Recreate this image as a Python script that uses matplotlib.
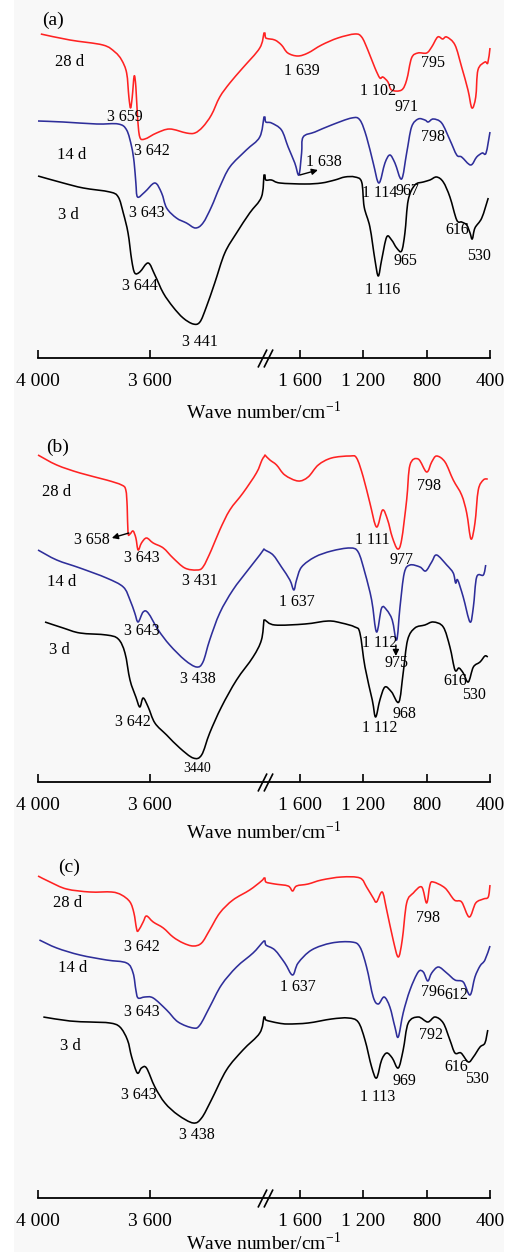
import numpy as np
import matplotlib
matplotlib.use("Agg")
import matplotlib.pyplot as plt
from matplotlib.transforms import offset_copy
from matplotlib.patches import Rectangle, PathPatch
from matplotlib.path import Path

plt.rcParams['font.family'] = ['Liberation Serif', 'DejaVu Serif']
plt.rcParams['mathtext.fontset'] = 'stix'

# ---------------- data (wave number, transmittance a.u.) ----------------
# panel (a)
A28_W = [3990, 3886, 3768, 3725, 3701, 3683, 3675, 3669, 3663, 3656, 3650, 3644, 3636, 3618,
         3576, 3529, 3469, 3439, 3411, 3380, 3350, 3314, 3268, 3207, 3192,
         1821, 1815, 1758, 1716, 1676, 1613, 1549, 1463, 1360, 1253, 1210, 1171, 1126, 1095,
         1076, 1044, 1021, 958, 926, 895, 855, 800, 768, 730, 699, 673, 621, 579, 539, 514,
         490, 476, 432, 414, 400]
A28_T = [324, 318, 313, 306, 298, 285, 261, 250, 261, 282, 271, 241, 221, 219,
         225, 229, 225, 225, 231, 243, 261, 275, 290, 310, 325,
         325, 320, 318, 313, 305, 302, 305, 313, 320, 324, 321, 308, 290, 280,
         281, 276, 268, 268, 278, 300, 305, 305, 311, 321, 319, 321, 313, 291, 268, 250,
         261, 288, 296, 295, 310]
A14_W = [4000, 3910, 3790, 3713, 3683, 3665, 3656, 3650, 3644, 3618, 3582, 3558, 3540, 3505,
         3469, 3437, 3410, 3380, 3350, 3314, 3255, 3207, 3192,
         1821, 1815, 1779, 1716, 1674, 1632, 1606, 1589, 1579, 1505, 1400, 1273, 1221, 1179,
         1137, 1101, 1063, 1032, 1000, 958, 926, 895, 853, 811, 790, 758, 705, 653, 610, 579,
         522, 484, 449, 425, 400]
A14_T = [237, 236, 234, 234, 228, 211, 195, 175, 161, 166, 175, 165, 150, 140,
         135, 130, 135, 151, 171, 191, 208, 221, 241,
         241, 236, 235, 228, 211, 195, 183, 205, 221, 226, 233, 240, 238, 221,
         195, 175, 195, 203, 195, 179, 205, 231, 239, 238, 236, 239, 235, 218, 203, 201,
         193, 201, 205, 205, 226]
A3_W = [4000, 3910, 3838, 3743, 3713, 3695, 3678, 3665, 3654, 3636, 3606, 3582, 3552, 3517,
        3481, 3445, 3421, 3398, 3368, 3332, 3290, 3243, 3201, 3192,
        1821, 1815, 1779, 1726, 1568, 1463, 1379, 1316, 1253, 1210, 1194, 1158, 1126, 1105,
        1084, 1052, 1021, 989, 958, 937, 916, 874, 821, 779, 737, 695, 653, 610, 579, 547,
        526, 512, 495, 452, 411]
A3_T = [182, 175, 170, 166, 161, 145, 125, 98, 85, 86, 95, 83, 65, 51,
        40, 34, 36, 51, 75, 105, 125, 145, 161, 183,
        183, 178, 178, 175, 174, 175, 178, 181, 181, 176, 151, 131, 98, 82,
        98, 121, 118, 110, 107, 125, 158, 173, 176, 178, 181, 176, 161, 138, 136, 133,
        125, 119, 130, 140, 160]

# panel (b)
B28_W = [4000, 3933, 3850, 3755, 3701, 3686, 3681, 3678, 3671, 3660, 3650, 3642, 3630, 3612,
         3588, 3552, 3517, 3475, 3433, 3410, 3380, 3350, 3314, 3267, 3219, 3199, 3192,
         1821, 1789, 1747, 1695, 1611, 1548, 1484, 1400, 1284, 1242, 1200, 1158, 1116, 1078,
         1046, 1017, 983, 958, 926, 905, 853, 800, 768, 737, 684, 632, 579, 547, 520, 495,
         474, 442, 414]
B28_T = [327, 317, 309, 302, 297, 292, 275, 249, 248, 251, 244, 232, 239, 244,
         239, 234, 224, 214, 212, 215, 232, 252, 272, 289, 309, 322, 325,
         327, 322, 317, 307, 301, 305, 317, 324, 326, 324, 305, 279, 255, 272,
         262, 245, 233, 242, 282, 317, 323, 310, 320, 326, 320, 302, 287, 269, 243, 259,
         292, 302, 303]
B14_W = [4000, 3933, 3850, 3755, 3695, 3671, 3654, 3642, 3624, 3606, 3570, 3529, 3475, 3433,
         3410, 3386, 3350, 3303, 3249, 3207, 3192,
         1821, 1769, 1716, 1663, 1638, 1621, 1589, 1505, 1400, 1284, 1232, 1189, 1147, 1116,
         1084, 1052, 1017, 989, 968, 941, 905, 842, 806, 768, 737, 673, 632, 617, 604, 569,
         526, 505, 484, 442, 427]
B14_T = [232, 222, 214, 204, 195, 182, 169, 160, 170, 169, 152, 137, 122, 115,
         120, 142, 169, 192, 212, 227, 233,
         232, 227, 215, 202, 192, 202, 215, 225, 231, 234, 230, 209, 182, 150,
         174, 172, 162, 142, 175, 209, 217, 215, 211, 220, 227, 217, 209, 199, 202, 185,
         160, 175, 205, 207, 217]
B3_W = [3975, 3910, 3850, 3755, 3713, 3689, 3671, 3650, 3636, 3624, 3606, 3582, 3540, 3493,
        3445, 3415, 3386, 3344, 3290, 3231, 3201, 3192,
        1821, 1758, 1568, 1421, 1337, 1253, 1221, 1189, 1143, 1122, 1095, 1063, 1021, 975,
        948, 920, 874, 811, 758, 695, 653, 621, 596, 569, 537, 505, 463, 432, 414]
B3_T = [160, 154, 149, 147, 143, 129, 102, 85, 75, 84, 75, 59, 47, 34,
        24, 27, 49, 75, 102, 125, 142, 162,
        162, 157, 158, 161, 159, 155, 149, 115, 82, 65, 82, 95, 90, 80,
        109, 142, 154, 157, 160, 155, 135, 112, 114, 109, 100, 115, 120, 126, 125]

# panel (c)
C28_W = [4000, 3957, 3898, 3814, 3737, 3701, 3671, 3657, 3648, 3642, 3624, 3612, 3588, 3552,
         3517, 3481, 3445, 3415, 3386, 3350, 3303, 3243, 3201, 3192,
         1821, 1815, 1758, 1674, 1646, 1621, 1548, 1463, 1337, 1221, 1179, 1137, 1116, 1080,
         1052, 1011, 979, 954, 926, 884, 831, 800, 779, 758, 684, 625, 579, 531, 490, 442,
         411, 400]
C28_T = [322, 316, 309, 306, 306, 303, 296, 285, 270, 267, 276, 282, 276, 270,
         261, 255, 252, 255, 268, 285, 298, 308, 317, 320,
         320, 316, 314, 312, 307, 312, 314, 318, 321, 320, 311, 300, 296, 306,
         288, 258, 241, 258, 295, 305, 311, 295, 313, 316, 310, 298, 296, 281, 295, 299,
         301, 313]
C14_W = [3995, 3933, 3850, 3755, 3683, 3660, 3650, 3642, 3618, 3588, 3540, 3499, 3445, 3421,
         3386, 3344, 3290, 3231, 3199, 3192,
         1821, 1815, 1758, 1695, 1646, 1611, 1526, 1400, 1273, 1221, 1179, 1137, 1105, 1068,
         1032, 1000, 979, 948, 905, 853, 821, 793, 768, 726, 673, 621, 569, 526, 495, 463,
         432, 400]
C14_T = [258, 250, 243, 238, 235, 225, 208, 200, 201, 200, 188, 176, 170, 173,
         191, 213, 231, 245, 255, 257,
         257, 253, 248, 235, 223, 235, 248, 255, 256, 251, 231, 201, 194, 201,
         191, 171, 161, 185, 208, 226, 226, 217, 225, 231, 225, 218, 216, 203, 221, 232,
         238, 252]
C3_W = [3981, 3886, 3814, 3743, 3707, 3680, 3665, 3645, 3630, 3612, 3582, 3546, 3499, 3445,
        3415, 3380, 3326, 3267, 3207, 3192,
        1821, 1815, 1737, 1674, 1548, 1400, 1295, 1232, 1189, 1147, 1116, 1084, 1052, 1017,
        979, 948, 916, 853, 793, 747, 695, 653, 621, 583, 537, 505, 463, 432, 414]
C3_T = [181, 177, 176, 175, 171, 158, 141, 125, 130, 130, 111, 95, 83, 75,
        80, 98, 128, 148, 165, 181,
        181, 178, 175, 174, 175, 179, 180, 176, 158, 131, 120, 138, 145, 140,
        130, 148, 175, 181, 176, 181, 175, 158, 145, 145, 136, 141, 151, 155, 168]

SERIES = ["28 d", "14 d", "3 d"]
COLORS = ["#ff2222", "#2e2e9a", "#000000"]

# peak labels: (text, wave number, height)
A_LABELS = [("3 659", 3689, 241), ("3 642", 3593, 207), ("3 643", 3611, 145),
            ("3 644", 3636, 72), ("3 441", 3421, 16), ("1 639", 1587, 287),
            ("1 638", 1448, 196), ("1 102", 1107, 267), ("971", 924, 251),
            ("795", 760, 295), ("798", 760, 221), ("1 114", 1095, 165),
            ("967", 918, 167), ("1 116", 1076, 68), ("965", 931, 97),
            ("616", 608, 128), ("530", 469, 102)]
B_LABELS = [("3 658", 3807, 242), ("3 643", 3629, 224), ("3 431", 3421, 201),
            ("3 643", 3629, 151), ("3 438", 3429, 103), ("3 642", 3661, 60),
            ("1 637", 1619, 180), ("1 111", 1145, 242), ("977", 956, 222),
            ("798", 785, 296), ("1 112", 1095, 139), ("975", 987, 119),
            ("1 112", 1095, 54), ("968", 937, 68), ("616", 621, 101), ("530", 501, 87)]
C_LABELS = [("3 642", 3629, 251), ("3 643", 3629, 186), ("3 643", 3639, 103),
            ("3 438", 3432, 63), ("1 637", 1613, 211), ("798", 792, 280),
            ("796", 760, 206), ("612", 615, 203), ("792", 773, 163),
            ("616", 615, 131), ("530", 482, 119), ("1 113", 1107, 101), ("969", 943, 117)]

# series name positions (wave number, height)
A_NAMES = [(3886, 296), (3879, 203), (3893, 143)]
B_NAMES = [(3932, 290), (3914, 200), (3925, 132)]
C_NAMES = [(3893, 295), (3875, 230), (3886, 152)]

TICKS = [4000, 3600, 1600, 1200, 800, 400]
TICK_LABELS = ["4 000", "3 600", "1 600", "1 200", "800", "400"]

# broken axis: 4000-3190 and 1820-400
KNOT_W = [400, 1820, 3190, 4000]
KNOT_U = [0, 225, 225.5, 452]
BREAK_W = 1820


def fwd(w):
    return np.interp(w, KNOT_W, KNOT_U)


def inv(u):
    return np.interp(u, KNOT_U, KNOT_W)


def smooth_path(w, t):
    # Catmull-Rom curve through the read points, one piece on each side of the break
    w = np.asarray(w, float)
    t = np.asarray(t, float)
    verts, codes = [], []
    high = w > 2500
    for part in (high, ~high):
        P = np.column_stack([w[part], t[part]])
        verts.append(P[0])
        codes.append(Path.MOVETO if not codes else Path.LINETO)
        n = len(P)
        for i in range(n - 1):
            p0, p1 = P[max(i - 1, 0)], P[i]
            p2, p3 = P[i + 1], P[min(i + 2, n - 1)]
            verts += [p1 + (p2 - p0) / 6, p2 - (p3 - p1) / 6, p2]
            codes += [Path.CURVE4] * 3
    return Path(verts, codes)


def draw_panel(fig, base_px, tag, tag_pos, curves, names, labels, labelpad,
               small=None, arrows=()):
    W, H = 514.0, 1252.0
    ax = fig.add_axes([38 / W, 1 - base_px / H, 452 / W, 345 / H])
    ax.set_facecolor('none')
    ax.set_xscale('function', functions=(fwd, inv))
    ax.set_xlim(4000, 400)
    ax.set_ylim(0, 345)

    for (w, t), c in zip(curves, COLORS):
        ax.add_patch(PathPatch(smooth_path(w, t), fill=False, edgecolor=c, lw=1.15,
                               joinstyle='round', clip_on=False))

    for (x, y), s in zip(names, SERIES):
        ax.text(x, y, s, fontsize=12, ha='center', va='center')
    ax.text(tag_pos[0], tag_pos[1], tag, fontsize=14, ha='center', va='center')

    for s, x, y in labels:
        ax.text(x, y, s, fontsize=11.5, ha='center', va='center')
    if small:
        s, x, y = small
        ax.text(x, y, s, fontsize=10, ha='center', va='center')
    for tail, head in arrows:
        ax.annotate('', xy=head, xytext=tail,
                    arrowprops=dict(arrowstyle='-|>', color='k', lw=1.0,
                                    mutation_scale=9, shrinkA=0, shrinkB=0))

    for sp in ['left', 'right', 'top']:
        ax.spines[sp].set_visible(False)
    ax.spines['bottom'].set_linewidth(1.3)
    ax.set_yticks([])
    ax.set_xticks(TICKS)
    ax.set_xticklabels(TICK_LABELS)
    ax.xaxis.set_minor_locator(matplotlib.ticker.NullLocator())
    ax.tick_params(axis='x', direction='in', length=6, width=1.2, labelsize=14, pad=11)
    ax.set_xlabel(r'Wave number/cm$^{\mathregular{-1}}$', fontsize=14, labelpad=labelpad)

    # break marks on the axis
    trans = ax.get_xaxis_transform()
    for dx in (-3, 3):
        t = offset_copy(trans, fig=fig, x=dx, y=0, units='dots')
        ax.plot([BREAK_W], [0], marker=[(-0.5, -1), (0.5, 1)], ms=13, mew=1.2,
                color='k', transform=t, clip_on=False, linestyle='none')
    return ax


fig = plt.figure(figsize=(5.14, 12.52), dpi=100)
fig.patch.set_facecolor('#f8f8f8')
fig.patches.append(Rectangle((0, 0), 14 / 514, 1, transform=fig.transFigure,
                             facecolor='white', edgecolor='none', zorder=-1))
fig.patches.append(Rectangle((504 / 514, 0), 10 / 514, 1, transform=fig.transFigure,
                             facecolor='white', edgecolor='none', zorder=-1))

draw_panel(fig, 358, "(a)", (3946, 338),
           [(A28_W, A28_T), (A14_W, A14_T), (A3_W, A3_T)], A_NAMES, A_LABELS, 8,
           arrows=[((1600, 183), (1486, 188))])
draw_panel(fig, 782, "(b)", (3929, 335),
           [(B28_W, B28_T), (B14_W, B14_T), (B3_W, B3_T)], B_NAMES, B_LABELS, 5,
           small=("3440", 3432, 14),
           arrows=[((3675, 249), (3736, 244)), ((994, 137), (994, 126))])
draw_panel(fig, 1198, "(c)", (3889, 331),
           [(C28_W, C28_T), (C14_W, C14_T), (C3_W, C3_T)], C_NAMES, C_LABELS, 1)

fig.savefig("out.png", dpi=100, facecolor=fig.get_facecolor())
